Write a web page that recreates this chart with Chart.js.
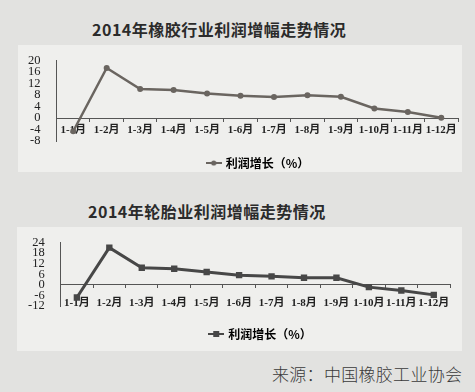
<!DOCTYPE html>
<html>
<head>
<meta charset="utf-8">
<script src="https://cdn.jsdelivr.net/npm/chart.js@4"></script>
<style>
    body { margin: 0; width: 475px; height: 392px; background: #e2e2e0; position: relative; overflow: hidden; }
    .titulo { position: absolute; font-family: "Noto Sans CJK SC", sans-serif; font-weight: 700; font-size: 16px; letter-spacing: 0.5px; color: #2b2b2b; white-space: nowrap; }
    .painel { position: absolute; background: #efefed; }
    .caixa { position: absolute; }
    .fonte { position: absolute; left: 272px; top: 361px; font-family: "Noto Sans CJK SC", sans-serif; font-weight: 300; font-size: 17px; color: #3a3a3a; letter-spacing: 0.3px; }
</style>
</head>
<body>
<div class="titulo" style="left:92px; top:17px;">2014年橡胶行业利润增幅走势情况</div>
<div class="painel" style="left:18px; top:45px; width:444px; height:127px;"></div>
<div class="caixa" style="left:18px; top:45px; width:444px; height:134px;">
    <canvas id="graficoBorracha"></canvas>
</div>
<div class="titulo" style="left:88px; top:199px;">2014年轮胎业利润增幅走势情况</div>
<div class="painel" style="left:17px; top:227px; width:445px; height:124px;"></div>
<div class="caixa" style="left:17px; top:227px; width:445px; height:123px;">
    <canvas id="graficoPneu"></canvas>
</div>
<div class="fonte">来源：中国橡胶工业协会</div>

<script>
const meses = ["1-1月", "1-2月", "1-3月", "1-4月", "1-5月", "1-6月", "1-7月", "1-8月", "1-9月", "1-10月", "1-11月", "1-12月"];

// 橡胶行业
const lucroBorracha = [-4.6, 17.4, 10.1, 9.7, 8.5, 7.7, 7.3, 7.9, 7.4, 3.3, 2.1, 0.1];
const ticksBorracha = [-8, -4, 0, 4, 8, 12, 16, 20];

// 轮胎业
const lucroPneu = [-7.2, 21.1, 9.7, 9.1, 7.3, 5.5, 4.8, 4.0, 4.0, -1.3, -3.2, -5.7];
const ticksPneu = [-12, -6, 0, 6, 12, 18, 24];

const nomeSerie = "利润增长（%）";

const fonteEixo = { family: '"Liberation Serif", "Noto Sans CJK SC", serif', size: 11, weight: 'bold' };

function iconeLegenda(cor, estilo) {
    const c = document.createElement("canvas");
    c.width = 16;
    c.height = 8;
    const ctx = c.getContext("2d");
    ctx.strokeStyle = cor;
    ctx.fillStyle = cor;
    ctx.lineWidth = 2;
    ctx.beginPath();
    ctx.moveTo(0, 4);
    ctx.lineTo(16, 4);
    ctx.stroke();
    if (estilo === "rect") {
        ctx.fillRect(5, 1, 6, 6);
    } else {
        ctx.beginPath();
        ctx.arc(8, 4, 2.6, 0, Math.PI * 2);
        ctx.fill();
    }
    return c;
}

// a legenda do original fica um pouco à direita do centro
const deslocaLegenda = {
    id: 'deslocaLegenda',
    afterLayout(chart, args, opts) {
        if (chart.legend) {
            chart.legend.left += opts.dx || 0;
            chart.legend.right += opts.dx || 0;
        }
    }
};

function criarGrafico(id, dados, ticks, cfg) {
    const ctx = document.getElementById(id).getContext("2d");
    const icone = iconeLegenda(cfg.cor, cfg.ponto);

    return new Chart(ctx, {
        type: 'line',
        data: {
            labels: meses,
            datasets: [{
                label: nomeSerie,
                data: dados,
                borderColor: cfg.cor,
                backgroundColor: cfg.cor,
                borderWidth: cfg.espessura,
                pointStyle: cfg.ponto,
                pointRadius: cfg.raio,
                pointBackgroundColor: cfg.cor,
                pointBorderWidth: 0,
                tension: 0,
                fill: false
            }]
        },
        plugins: [deslocaLegenda],
        options: {
            responsive: true,
            maintainAspectRatio: false,
            animation: false,
            layout: { padding: cfg.padding },
            scales: {
                x: {
                    type: 'category',
                    offset: true,
                    position: { y: 0 },
                    border: { display: true, color: '#555', width: 1 },
                    grid: { display: true, offset: true, drawOnChartArea: false, tickLength: 3, color: '#555' },
                    ticks: {
                        color: '#222',
                        font: fonteEixo,
                        padding: cfg.padRotulo,
                        maxRotation: 0,
                        autoSkip: false
                    }
                },
                y: {
                    min: ticks[0],
                    max: ticks[ticks.length - 1],
                    afterBuildTicks: (eixo) => { eixo.ticks = ticks.map(v => ({ value: v })); },
                    border: { display: true, color: '#555', width: 1 },
                    grid: { display: false },
                    ticks: {
                        color: '#222',
                        font: { family: '"Liberation Serif", serif', size: 12.5 },
                        padding: 8,
                        autoSkip: false
                    }
                }
            },
            plugins: {
                deslocaLegenda: { dx: cfg.dxLegenda },
                legend: {
                    display: true,
                    position: 'bottom',
                    labels: {
                        color: '#222',
                        font: { family: '"Noto Sans CJK SC", sans-serif', size: 12, weight: 'bold' },
                        boxWidth: 16,
                        padding: cfg.padLegenda,
                        usePointStyle: true,
                        generateLabels: () => [{
                            text: nomeSerie,
                            pointStyle: icone,
                            fillStyle: cfg.cor,
                            strokeStyle: cfg.cor,
                            lineWidth: 0,
                            datasetIndex: 0
                        }]
                    }
                },
                tooltip: { enabled: false }
            }
        }
    });
}

criarGrafico("graficoBorracha", lucroBorracha, ticksBorracha, {
    cor: '#6a6560',
    espessura: 2.5,
    ponto: 'circle',
    raio: 3,
    padRotulo: 3,
    padLegenda: 16,
    dxLegenda: 18,
    padding: { top: 15, left: 2, right: 1, bottom: 0 }
});

criarGrafico("graficoPneu", lucroPneu, ticksPneu, {
    cor: '#474747',
    espessura: 3,
    ponto: 'rect',
    raio: 4.5,
    padRotulo: 9,
    padLegenda: 22,
    dxLegenda: 26,
    padding: { top: 8, left: 3, right: 12, bottom: 0 }
});
</script>
</body>
</html>
